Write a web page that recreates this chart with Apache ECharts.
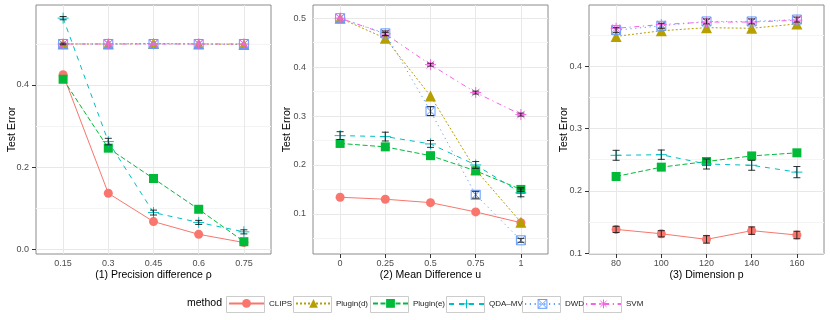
<!DOCTYPE html>
<html lang="en">
<head>
<meta charset="UTF-8">
<title>Test Error</title>
<script src="https://cdn.jsdelivr.net/npm/echarts@6/dist/echarts.min.js"></script>
<style>
  html, body { margin: 0; padding: 0; background: #fff; }
  #main { width: 830px; height: 320px; }
</style>
</head>
<body>
<div id="main"></div>
<script>
// methods, in legend order
var methods = ['CLIPS', 'Plugin(d)', 'Plugin(e)', 'QDA\u2013MV', 'DWD', 'SVM'];

// (1) precision difference rho
var rho = [0.15, 0.3, 0.45, 0.6, 0.75];
var clips1 = [0.425, 0.136, 0.067, 0.036, 0.016];
var plugd1 = [0.5, 0.5, 0.501, 0.5, 0.499];
var pluge1 = [0.414, 0.246, 0.172, 0.097, 0.018];
var qda1   = [0.563, 0.262, 0.089, 0.065, 0.042];
var dwd1   = [0.5, 0.5, 0.5, 0.5, 0.5];
var svm1   = [0.5, 0.5, 0.5, 0.5, 0.5];

// (2) mean difference u
var meanU  = [0, 0.25, 0.5, 0.75, 1];
var clips2 = [0.134, 0.130, 0.123, 0.104, 0.082];
var plugd2 = [0.5, 0.459, 0.341, 0.190, 0.083];
var pluge2 = [0.244, 0.237, 0.219, 0.188, 0.150];
var qda2   = [0.260, 0.258, 0.243, 0.200, 0.143];
var dwd2   = [0.5, 0.469, 0.310, 0.139, 0.046];
var svm2   = [0.5, 0.468, 0.405, 0.348, 0.303];

// (3) dimension p
var dimP   = [80, 100, 120, 140, 160];
var clips3 = [0.138, 0.131, 0.122, 0.136, 0.129];
var plugd3 = [0.448, 0.457, 0.462, 0.461, 0.468];
var pluge3 = [0.223, 0.238, 0.247, 0.256, 0.261];
var qda3   = [0.257, 0.258, 0.243, 0.241, 0.230];
var dwd3   = [0.458, 0.465, 0.472, 0.472, 0.475];
var svm3   = [0.461, 0.467, 0.471, 0.471, 0.474];

// standard errors (error bar half widths), 0 = hidden under the marker
var clipsSe1 = [0, 0, 0, 0, 0];
var plugdSe1 = [0, 0, 0, 0, 0];
var plugeSe1 = [0, 0, 0, 0, 0];
var qdaSe1   = [0.004, 0.008, 0.006, 0.005, 0.005];
var dwdSe1   = [0.002, 0, 0, 0, 0];
var svmSe1   = [0, 0, 0, 0, 0];
var clipsSe2 = [0, 0, 0, 0, 0];
var plugdSe2 = [0, 0, 0, 0, 0];
var plugeSe2 = [0, 0, 0, 0, 0.004];
var qdaSe2   = [0.008, 0.009, 0.007, 0.007, 0.008];
var dwdSe2   = [0, 0.005, 0.009, 0.007, 0.004];
var svmSe2   = [0, 0.003, 0.003, 0.003, 0.003];
var clipsSe3 = [0.005, 0.005, 0.006, 0.006, 0.006];
var plugdSe3 = [0, 0, 0, 0, 0];
var plugeSe3 = [0, 0, 0, 0, 0];
var qdaSe3   = [0.008, 0.0075, 0.008, 0.008, 0.009];
var dwdSe3   = [0.004, 0.004, 0.004, 0.004, 0.004];
var svmSe3   = [0, 0, 0, 0, 0];

// axis ticks
var yTicks1 = [0, 0.2, 0.4];             var yMinor1 = [0.1, 0.3, 0.5];
var yTicks2 = [0.1, 0.2, 0.3, 0.4, 0.5]; var yMinor2 = [0.05, 0.15, 0.25, 0.35, 0.45];
var yTicks3 = [0.1, 0.2, 0.3, 0.4];      var yMinor3 = [0.15, 0.25, 0.35, 0.45];

var panels = [
  { x: rho, ys: [clips1, plugd1, pluge1, qda1, dwd1, svm1],
    se: [clipsSe1, plugdSe1, plugeSe1, qdaSe1, dwdSe1, svmSe1],
    yMin: -0.012, yMax: 0.595, ticks: yTicks1, minor: yMinor1,
    title: '(1) Precision difference \u03c1', left: 36, nameGap: 18 },
  { x: meanU, ys: [clips2, plugd2, pluge2, qda2, dwd2, svm2],
    se: [clipsSe2, plugdSe2, plugeSe2, qdaSe2, dwdSe2, svmSe2],
    yMin: 0.018, yMax: 0.527, ticks: yTicks2, minor: yMinor2,
    title: '(2) Mean Difference u', left: 313, nameGap: 20 },
  { x: dimP, ys: [clips3, plugd3, pluge3, qda3, dwd3, svm3],
    se: [clipsSe3, plugdSe3, plugeSe3, qdaSe3, dwdSe3, svmSe3],
    yMin: 0.0985, yMax: 0.4984, ticks: yTicks3, minor: yMinor3,
    title: '(3) Dimension p', left: 589, nameGap: 19 }
];

var FONT = '"Liberation Sans", Arial, sans-serif';
var colors = ['#F8766D', '#B79F00', '#00BA38', '#00BFC4', '#619CFF', '#F564E3'];
var dashes = ['solid', [2, 2], [5, 2.5], [5, 5], [1.2, 3.6], [1.2, 3.6, 5, 3.6]];
var symbols = [
  'circle', 'triangle', 'rect',
  'path://M5,0V10M0,5H10',
  'path://M0,0H10V10H0ZM0,0L10,10M10,0L0,10',
  'path://M5,0V10M0,5H10M1.5,1.5L8.5,8.5M8.5,1.5L1.5,8.5'
];
var sizes = [9, 11, 9, 11, 9, 11];
var stroked = [false, false, false, true, true, true];

var grids = [], xAxes = [], yAxes = [], series = [];

panels.forEach(function (p, k) {
  var step = p.x[1] - p.x[0];
  grids.push({
    left: p.left, top: 5, width: 235, height: 249,
    show: true, borderColor: '#8c8c8c', borderWidth: 1, backgroundColor: '#fff'
  });
  xAxes.push({
    type: 'value', gridIndex: k,
    min: p.x[0] - 0.6 * step, max: p.x[p.x.length - 1] + 0.6 * step,
    name: p.title, nameLocation: 'middle', nameGap: 16, nameMoveOverlap: false,
    nameTextStyle: { fontFamily: FONT, fontSize: 10.5, color: '#000' },
    axisLine: { show: false },
    axisTick: { show: true, customValues: p.x, length: 4, lineStyle: { color: '#333' } },
    axisLabel: { customValues: p.x, fontFamily: FONT, fontSize: 9, color: '#4d4d4d', margin: 5 },
    splitLine: { show: false }
  });
  yAxes.push({
    type: 'value', gridIndex: k, min: p.yMin, max: p.yMax,
    name: 'Test Error', nameLocation: 'middle', nameGap: p.nameGap, nameMoveOverlap: false,
    nameTextStyle: { fontFamily: FONT, fontSize: 10.5, color: '#000' },
    axisLine: { show: false },
    axisTick: { show: true, customValues: p.ticks, length: 4, lineStyle: { color: '#333' } },
    axisLabel: {
      customValues: p.ticks, fontFamily: FONT, fontSize: 9, color: '#4d4d4d', margin: 7,
      formatter: function (v) { return v.toFixed(1); }
    },
    splitLine: { show: false }
  });

  // panel grid lines
  var lines = [];
  p.minor.forEach(function (v) { lines.push({ yAxis: v, lineStyle: { color: '#f4f4f4', width: 1, type: 'solid' } }); });
  p.ticks.forEach(function (v) { lines.push({ yAxis: v, lineStyle: { color: '#e8e8e8', width: 1, type: 'solid' } }); });
  p.x.forEach(function (v) { lines.push({ xAxis: v, lineStyle: { color: '#e8e8e8', width: 1, type: 'solid' } }); });
  series.push({
    name: '_grid' + k, type: 'line', xAxisIndex: k, yAxisIndex: k, data: [], silent: true, z: 1,
    markLine: { silent: true, z: 1, symbol: ['none', 'none'], label: { show: false }, animation: false, data: lines }
  });

  methods.forEach(function (m, i) {
    series.push({
      name: m, type: 'line', xAxisIndex: k, yAxisIndex: k,
      data: p.x.map(function (xv, j) { return [xv, p.ys[i][j]]; }),
      symbol: symbols[i], symbolSize: sizes[i], showSymbol: true,
      lineStyle: { color: colors[i], width: 1, type: dashes[i] },
      itemStyle: stroked[i]
        ? { color: 'rgba(255,255,255,0)', borderColor: colors[i], borderWidth: 1 }
        : { color: colors[i], borderWidth: 0 },
      emphasis: { disabled: true },
      z: 2 + i * 0.1
    });
  });

  // error bars
  var eb = [];
  methods.forEach(function (m, i) {
    p.x.forEach(function (xv, j) {
      if (p.se[i][j] > 0) eb.push([xv, p.ys[i][j], p.se[i][j]]);
    });
  });
  series.push({
    name: '_err' + k, type: 'custom', xAxisIndex: k, yAxisIndex: k, silent: true, z: 5,
    data: eb,
    renderItem: function (params, api) {
      var x = api.value(0), y = api.value(1), s = api.value(2);
      var a = api.coord([x, y + s]), b = api.coord([x, y - s]);
      var w = 3.5, st = { stroke: '#1a1a1a', lineWidth: 0.9 };
      return { type: 'group', children: [
        { type: 'line', shape: { x1: a[0], y1: a[1], x2: b[0], y2: b[1] }, style: st },
        { type: 'line', shape: { x1: a[0] - w, y1: a[1], x2: a[0] + w, y2: a[1] }, style: st },
        { type: 'line', shape: { x1: b[0] - w, y1: b[1], x2: b[0] + w, y2: b[1] }, style: st }
      ] };
    }
  });
});

// legend keys
var boxX = [226, 293, 370, 446, 522, 583];
var legends = methods.map(function (m, i) {
  return {
    data: [m], left: boxX[i] + 2, top: 299, orient: 'horizontal',
    itemWidth: 35, itemHeight: 11, itemGap: 0, padding: 0, selectedMode: false,
    itemStyle: stroked[i] ? { borderWidth: 1 } : { borderWidth: 0 },
    textStyle: { fontFamily: FONT, fontSize: 8, color: '#1a1a1a' }
  };
});
var graphics = [{
  type: 'text', left: 187, top: 298, z: 0,
  style: { text: 'method', font: '10.5px ' + FONT, fill: '#000' }
}];
boxX.forEach(function (bx) {
  graphics.push({
    type: 'rect', shape: { x: bx + 0.5, y: 296.5, width: 38, height: 16 }, z: 0,
    style: { fill: '#fff', stroke: '#cccccc', lineWidth: 1 }
  });
});

var myChart = echarts.init(document.getElementById('main'));
myChart.setOption({
  animation: false,
  textStyle: { fontFamily: FONT },
  grid: grids,
  xAxis: xAxes,
  yAxis: yAxes,
  legend: legends,
  graphic: graphics,
  series: series
});
</script>
</body>
</html>
